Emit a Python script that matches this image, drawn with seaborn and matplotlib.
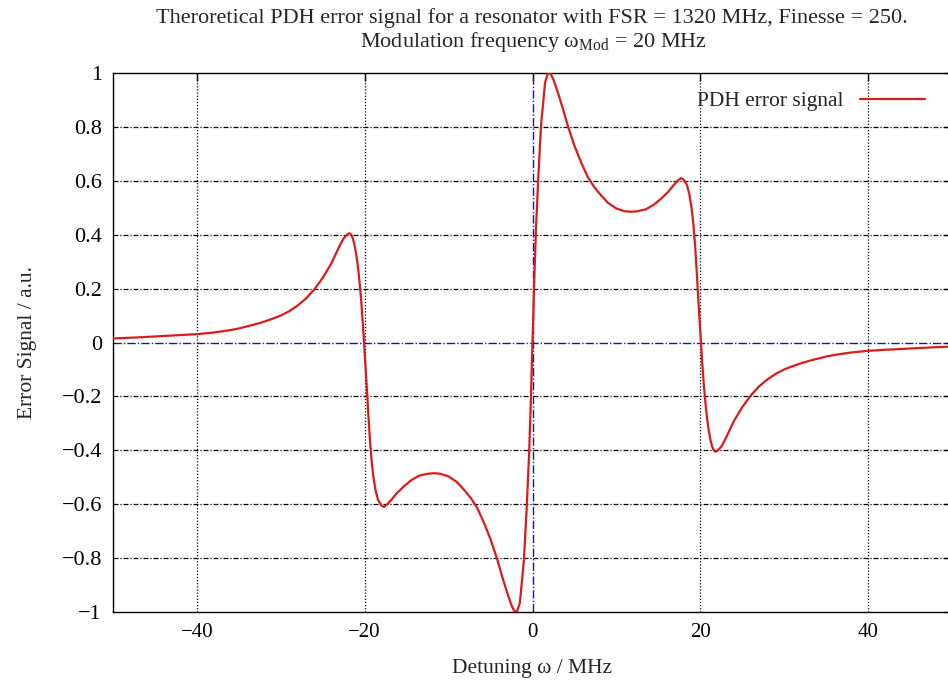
import matplotlib
matplotlib.use("Agg")
import matplotlib.pyplot as plt
import seaborn as sns
import numpy as np
import pandas as pd

# Detuning (MHz) and error signal (a.u.)
detuning = [
    -50, -47, -44, -42, -40, -38, -36, -35, -34, -33, -32, -31, -30, -29, -28,
    -27, -26, -25, -24, -23.5, -23, -22.5, -22, -21.8, -21.6, -21.4, -21.2,
    -21.0, -20.8, -20.6, -20.4, -20.2, -20.0, -19.8, -19.6, -19.4, -19.2,
    -19.0, -18.7, -18.4, -18.0, -17.7, -17.3, -16.8, -16.2, -15.3, -14.5,
    -13.5, -12.5, -11.75, -11, -10, -9, -8.2, -7.4, -6.6, -5.8, -5, -4.2, -3.6,
    -3.0, -2.5, -2.2, -2.0, -1.8, -1.5, -1.03, -0.7, -0.4, -0.24, 0,
    0.24, 0.4, 0.7, 1.03, 1.5, 1.8, 2.0, 2.2, 2.5, 3.0, 3.6, 4.2, 5, 5.8, 6.6,
    7.4, 8.2, 9, 10, 11, 11.75, 12.5, 13.5, 14.5, 15.3, 16.2, 16.8, 17.3, 17.7,
    18.0, 18.4, 18.7, 19.0, 19.2, 19.4, 19.6, 19.8, 20.0, 20.2, 20.4, 20.6,
    20.8, 21.0, 21.2, 21.4, 21.6, 21.8, 22, 22.5, 23, 23.5, 24, 25, 26, 27, 28,
    29, 30, 31, 32, 33, 34, 35, 36, 38, 40, 42, 44, 47, 50,
]
signal = [
    0.015, 0.019, 0.024, 0.027, 0.031, 0.037, 0.046, 0.052, 0.060, 0.068,
    0.077, 0.088, 0.100, 0.116, 0.137, 0.163, 0.197, 0.240, 0.292, 0.325,
    0.358, 0.387, 0.403, 0.405, 0.400, 0.385, 0.360, 0.325, 0.280, 0.220,
    0.150, 0.060, -0.040, -0.140, -0.250, -0.350, -0.430, -0.490, -0.550,
    -0.585, -0.605, -0.610, -0.600, -0.583, -0.560, -0.533, -0.512, -0.494,
    -0.487, -0.485, -0.487, -0.497, -0.518, -0.545, -0.575, -0.613, -0.668,
    -0.730, -0.805, -0.870, -0.930, -0.975, -0.995, -1.000, -0.995, -0.965,
    -0.810, -0.620, -0.410, -0.260, 0.000,
    0.260, 0.410, 0.620, 0.810, 0.965, 0.995, 1.000, 0.995, 0.975, 0.930,
    0.870, 0.805, 0.730, 0.668, 0.613, 0.575, 0.545, 0.518, 0.497, 0.487,
    0.485, 0.487, 0.494, 0.512, 0.533, 0.560, 0.583, 0.600, 0.610, 0.605,
    0.585, 0.550, 0.490, 0.430, 0.350, 0.250, 0.140, 0.040, -0.060, -0.150,
    -0.220, -0.280, -0.325, -0.360, -0.385, -0.400, -0.405, -0.403, -0.387,
    -0.358, -0.325, -0.292, -0.240, -0.197, -0.163, -0.137, -0.116, -0.100,
    -0.088, -0.077, -0.068, -0.060, -0.052, -0.046, -0.037, -0.031, -0.027,
    -0.024, -0.019, -0.015,
]
x_ticks = [-40, -20, 0, 20, 40]
y_ticks = [-1, -0.8, -0.6, -0.4, -0.2, 0, 0.2, 0.4, 0.6, 0.8, 1]
y_tick_labels = ["\u22121", "\u22120.8", "\u22120.6", "\u22120.4", "\u22120.2", "0",
                 "0.2", "0.4", "0.6", "0.8", "1"]
x_tick_labels = ["\u221240", "\u221220", "0", "20", "40"]

df = pd.DataFrame({"Detuning": detuning, "Signal": signal})

sns.set_theme(style="white")
plt.rcParams["font.family"] = ["Liberation Serif", "DejaVu Serif"]
plt.rcParams["mathtext.fontset"] = "custom"
plt.rcParams["mathtext.rm"] = "Liberation Serif"
plt.rcParams["mathtext.it"] = "Liberation Serif:italic"

fig = plt.figure(figsize=(9.48, 6.81), dpi=100)
ax = fig.add_axes([113 / 948, 69 / 681, (952 - 113) / 948, (612 - 73) / 681])

# grid
for yv in y_ticks:
    if yv in (-1, 0, 1):
        continue
    ax.axhline(yv, color="black", lw=0.9, dashes=(4, 1.5, 1, 1.5), zorder=1)
for xv in x_ticks:
    if xv == 0:
        continue
    ax.axvline(xv, color="black", lw=0.9, dashes=(1, 1.5), zorder=1)
# zero axes
ax.axhline(0, color="#1c1c70", lw=1.0, dashes=(6, 1.5, 1, 1.5), zorder=1.5)
ax.axvline(0, color="#1c1c70", lw=1.0, dashes=(6, 1.5, 1, 1.5), zorder=1.5)

sns.lineplot(data=df, x="Detuning", y="Signal", ax=ax, color="#dc1a1a",
             lw=1.6, label="PDH error signal", sort=False, zorder=3)

ax.set_xlim(-50, 50)
ax.set_ylim(-1, 1)
ax.set_xticks(x_ticks)
ax.set_xticklabels(x_tick_labels)
ax.set_yticks(y_ticks)
ax.set_yticklabels(y_tick_labels)
ax.tick_params(axis="x", labelsize=15)
ax.tick_params(axis="y", labelsize=16)
ax.tick_params(direction="in", length=6, width=1, top=True, right=True,
               colors="black", pad=8)
for s in ax.spines.values():
    s.set_color("black")
    s.set_linewidth(1.0)

ax.set_xlabel("Detuning \u03c9 / MHz", fontsize=15.5, labelpad=12)
ax.set_ylabel("Error Signal / a.u.", fontsize=15.5, labelpad=18)

fig.text(532 / 948, 1 - 18 / 681,
         "Theroretical PDH error signal for a resonator with FSR = 1320 MHz, Finesse = 250.",
         ha="center", va="center", fontsize=16)
fig.text(534 / 948, 1 - 42 / 681,
         "Modulation frequency \u03c9$_{\\mathrm{Mod}}$ = 20 MHz",
         ha="center", va="center", fontsize=16)

leg = ax.legend(loc="upper right", frameon=False, markerfirst=False,
                fontsize=15.5, handlelength=3.0, handletextpad=0.8,
                bbox_to_anchor=((925 - 113) / 839, (612 - 91) / 539),
                borderaxespad=0, borderpad=0)

fig.savefig("out.png", dpi=100)
